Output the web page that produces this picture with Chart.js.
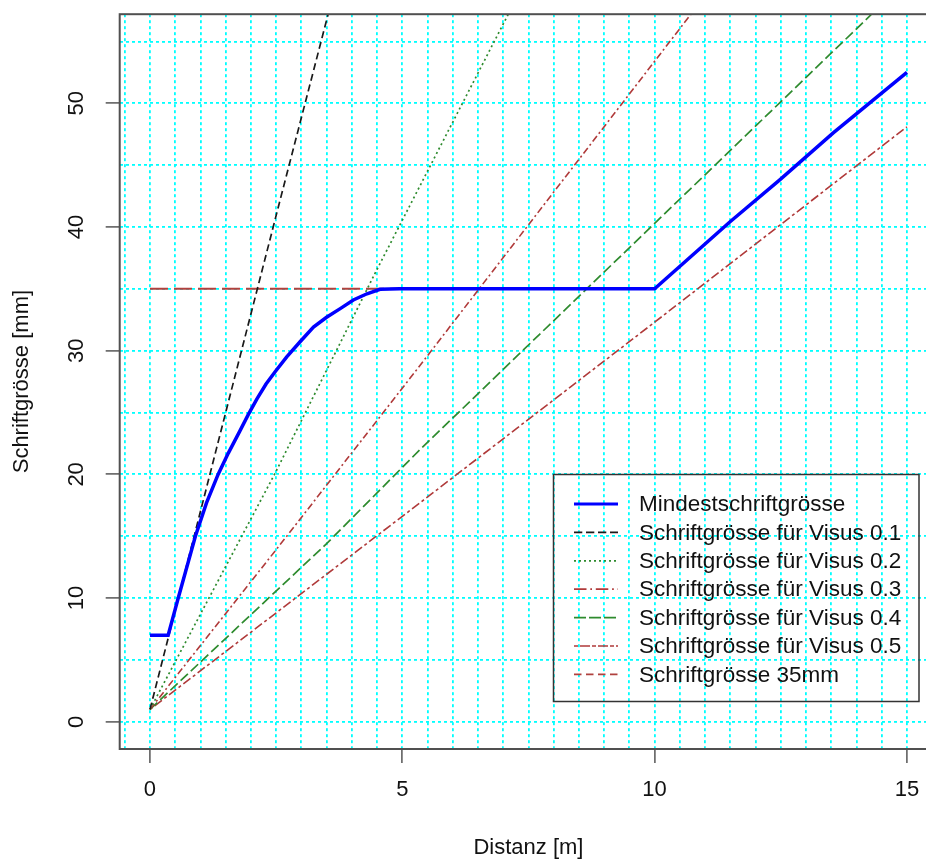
<!DOCTYPE html>
<html><head><meta charset="utf-8">
<style>
html,body{margin:0;padding:0;background:#fff;overflow:hidden;}
#wrap{width:926px;height:861px;overflow:hidden;position:relative;background:#fff;}
canvas{display:block;}
</style>
<script src="https://cdn.jsdelivr.net/npm/chart.js@4.4.1/dist/chart.umd.min.js"></script>
</head><body>
<div id="wrap"><canvas id="c" width="960" height="861"></canvas></div>
<script>
// ---- data ----
const xTickLabels = [0, 5, 10, 15];
const yTickLabels = [0, 10, 20, 30, 40, 50];

const seriesNames = [
  'Mindestschriftgrösse',
  'Schriftgrösse für Visus 0.1',
  'Schriftgrösse für Visus 0.2',
  'Schriftgrösse für Visus 0.3',
  'Schriftgrösse für Visus 0.4',
  'Schriftgrösse für Visus 0.5',
  'Schriftgrösse 35mm'
];

const minX = [0, 0.36, 0.56, 0.9, 1.12, 1.35, 1.55, 1.78, 1.95, 2.12, 2.3, 2.48, 2.71, 2.97, 3.24, 3.5, 3.77, 4.03, 4.3, 4.56, 4.95, 10.0, 11.49, 12.48, 13.54, 15.0];
const minY = [7.0, 7.0, 10.0, 15.0, 17.7, 20.0, 21.7, 23.5, 24.85, 26.1, 27.3, 28.3, 29.5, 30.7, 31.9, 32.7, 33.4, 34.1, 34.6, 34.96, 35.0, 35.0, 40.4, 43.8, 47.6, 52.5];

const v01X = [0, 1.5, 2.58, 3.53];
const v01Y = [1, 25.0, 42.2, 57.2];

const v02X = [0, 2.48, 4.49, 7.1];
const v02Y = [1, 20.1, 36.5, 57.2];

const v03X = [0, 2.71, 5.35, 10.72];
const v03Y = [1, 15.0, 28.8, 57.2];

const v04X = [0, 3.5, 5.35, 14.3];
const v04Y = [1, 14.4, 22.0, 57.2];

const v05X = [0, 5.35, 10.0, 15.0];
const v05Y = [1, 17.7, 32.3, 48.1];

const mm35X = [0, 10];
const mm35Y = [35, 35];

// ---- build ----
const pts = (xs, ys) => xs.map((x, i) => ({x, y: ys[i]}));
const isIn = (arr, v) => arr.some(a => Math.abs(a - v) < 1e-9);

const styles = [
  {color:'#0000FF', width:3.5, dash:[],          legendDash:[],            legendWidth:3},
  {color:'#1a1a1a', width:1.7, dash:[7,4],       legendDash:[8.3,3.7],     legendWidth:1.7},
  {color:'#2E8B2E', width:1.7, dash:[2,3],       legendDash:[2,3],         legendWidth:1.7},
  {color:'#B03A3A', width:1.6, dash:[7,3,2,3],   legendDash:[12.5,3.8,1.7,3.8], legendWidth:1.7},
  {color:'#2E8B2E', width:1.7, dash:[10,4],      legendDash:[12,3],        legendWidth:1.7},
  {color:'#B03A3A', width:1.6, dash:[3,3,9,3],   legendDash:[4,2,10,2],    legendWidth:1.7},
  {color:'#B0413E', width:2,   dash:[18,6],      legendDash:[7.5,4.5],     legendWidth:1.7}
];
const seriesData = [
  pts(minX, minY), pts(v01X, v01Y), pts(v02X, v02Y), pts(v03X, v03Y),
  pts(v04X, v04Y), pts(v05X, v05Y), pts(mm35X, mm35Y)
];

const datasets = seriesNames.map((name, i) => ({
  label: name,
  data: seriesData[i],
  borderColor: styles[i].color,
  borderWidth: styles[i].width,
  borderDash: styles[i].dash,
  pointRadius: 0,
  pointHoverRadius: 0,
  tension: 0,
  fill: false
}));

Chart.defaults.font.family = '"Liberation Sans", Arial, sans-serif';
Chart.defaults.color = '#111';

const boxPlugin = {
  id: 'rbox',
  afterDatasetsDraw(chart) {
    const {ctx, chartArea: a} = chart;
    ctx.save();
    ctx.strokeStyle = '#505050';
    ctx.lineWidth = 2;
    ctx.strokeRect(a.left, a.top, a.right - a.left, a.bottom - a.top);
    ctx.restore();
  }
};

const legendPlugin = {
  id: 'rlegend',
  afterDraw(chart) {
    const ctx = chart.ctx;
    ctx.save();
    ctx.strokeStyle = '#333';
    ctx.lineWidth = 1.5;
    ctx.setLineDash([]);
    ctx.strokeRect(553.5, 474.5, 365.5, 227);
    const y0 = 504, dy = 28.4;
    ctx.font = '22.5px "Liberation Sans", Arial, sans-serif';
    ctx.textBaseline = 'middle';
    ctx.textAlign = 'left';
    chart.data.datasets.forEach((ds, i) => {
      const y = y0 + i * dy;
      ctx.beginPath();
      ctx.setLineDash(styles[i].legendDash);
      ctx.strokeStyle = styles[i].color;
      ctx.lineWidth = styles[i].legendWidth;
      ctx.moveTo(574, y);
      ctx.lineTo(618, y);
      ctx.stroke();
      ctx.setLineDash([]);
      ctx.fillStyle = '#111';
      ctx.fillText(ds.label, 639, y + 1);
    });
    ctx.restore();
  }
};

new Chart(document.getElementById('c'), {
  type: 'line',
  data: { datasets },
  plugins: [boxPlugin, legendPlugin],
  options: {
    responsive: false,
    animation: false,
    events: [],
    layout: { padding: { left: 0, right: 22.8, top: 14.2, bottom: 0 } },
    plugins: { legend: { display: false }, tooltip: { enabled: false } },
    scales: {
      x: {
        type: 'linear', min: -0.6, max: 15.6,
        ticks: {
          stepSize: 0.5, includeBounds: false, autoSkip: false,
          minRotation: 0, maxRotation: 0, padding: 14,
          color: '#111', font: { size: 22 },
          callback: v => isIn(xTickLabels, v) ? String(v) : ''
        },
        grid: {
          color: '#00FFFF', lineWidth: 1.8, drawTicks: true, tickLength: 14, tickWidth: 1.5,
          tickColor: c => (c.tick && isIn(xTickLabels, c.tick.value)) ? '#555' : 'rgba(0,0,0,0)'
        },
        border: { display: false, dash: [3, 3] },
        title: { display: true, text: 'Distanz [m]', color: '#111', font: { size: 22 }, padding: { top: 0, bottom: 0 } },
        afterFit: s => { s.height = 112; s.paddingLeft = 0; s.paddingRight = 0; }
      },
      y: {
        type: 'linear', min: -2.2, max: 57.2,
        ticks: {
          stepSize: 5, includeBounds: false, autoSkip: false,
          minRotation: 90, maxRotation: 90, crossAlign: 'center', padding: 17,
          color: '#111', font: { size: 22 },
          callback: v => isIn(yTickLabels, v) ? String(v) : ''
        },
        grid: {
          color: '#00FFFF', lineWidth: 1.8, drawTicks: true, tickLength: 14, tickWidth: 1.5,
          tickColor: c => (c.tick && isIn(yTickLabels, c.tick.value)) ? '#555' : 'rgba(0,0,0,0)'
        },
        border: { display: false, dash: [3, 3] },
        title: { display: true, text: 'Schriftgrösse [mm]', color: '#111', font: { size: 22 }, padding: { top: 9, bottom: 0 } },
        afterFit: s => { s.width = 119.7; s.paddingTop = 0; s.paddingBottom = 0; }
      }
    }
  }
});
</script>
</body></html>
